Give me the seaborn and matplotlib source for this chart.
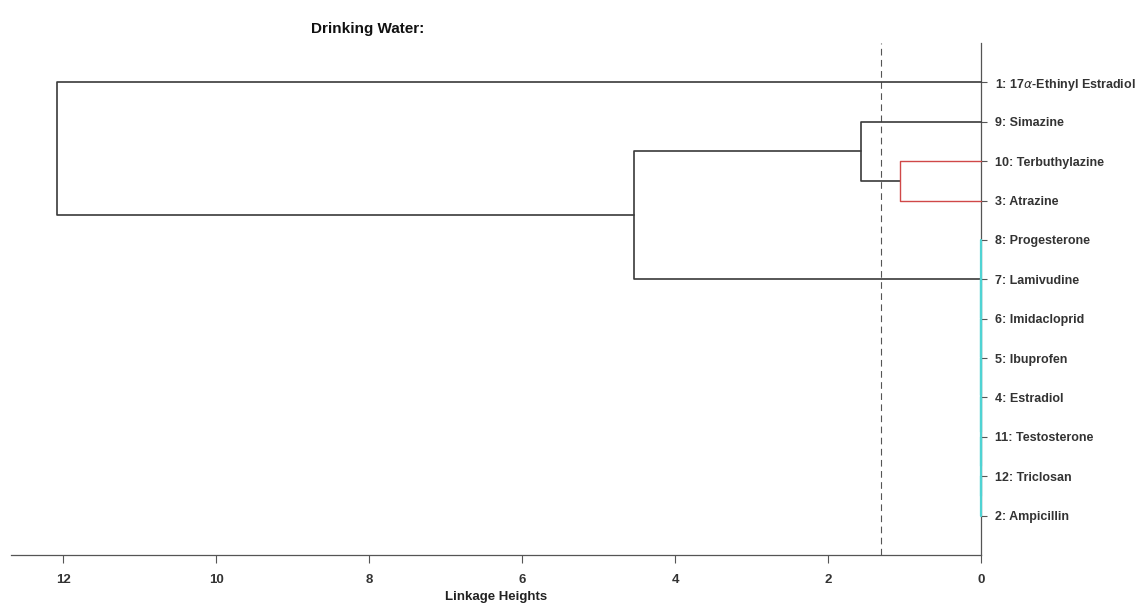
import matplotlib
matplotlib.use("Agg")
import matplotlib.pyplot as plt
import seaborn as sns
import pandas as pd

# ---------------- data ----------------
leaf_labels = [
    r"1: 17$\alpha$-Ethinyl Estradiol",
    "9: Simazine",
    "10: Terbuthylazine",
    "3: Atrazine",
    "8: Progesterone",
    "7: Lamivudine",
    "6: Imidacloprid",
    "5: Ibuprofen",
    "4: Estradiol",
    "11: Testosterone",
    "12: Triclosan",
    "2: Ampicillin",
]
# links: (name, child_a, child_b, height, colour group); children are leaf indices (int) or link names
link_names   = ["z1", "z2", "z3", "z4", "z5", "z6", "z7", "R", "B", "A", "root"]
link_child_a = [10, "z1", "z2", "z3", "z4", "z5", "z6", 2, 1, "B", 0]
link_child_b = [11, 9, 8, 7, 6, 5, 4, 3, "R", "z7", "A"]
link_heights = [0.0, 0.0, 0.0, 0.0, 0.0, 0.0, 0.0, 1.06, 1.57, 4.53, 12.08]
link_groups  = ["cyan", "cyan", "cyan", "cyan", "cyan", "cyan", "cyan", "red", "black", "black", "black"]
cutoff = 1.31
x_ticks = [0, 2, 4, 6, 8, 10, 12]

# ---------------- build segments ----------------
pos = {}
hgt = {}
rows = []
for name, a, b, h, g in zip(link_names, link_child_a, link_child_b, link_heights, link_groups):
    ya = pos[a] if isinstance(a, str) else float(a)
    yb = pos[b] if isinstance(b, str) else float(b)
    ha = hgt[a] if isinstance(a, str) else 0.0
    hb = hgt[b] if isinstance(b, str) else 0.0
    pos[name] = (ya + yb) / 2
    hgt[name] = h
    for k, (xx, yy) in enumerate([(ha, ya), (h, ya), (h, yb), (hb, yb)]):
        rows.append({"link": name, "order": k, "height": xx, "leaf": yy, "group": g})
df = pd.DataFrame(rows)

palette = {"black": "#3a3a3a", "red": "#d04848", "cyan": "#4fd3d3"}

sns.set_theme(style="white")
plt.rcParams["font.family"] = ["Liberation Sans", "DejaVu Sans"]
plt.rcParams["mathtext.fontset"] = "dejavusans"

fig = plt.figure(figsize=(11.45, 6.04), dpi=100)
ax = fig.add_axes([11 / 1145, 49 / 604, 970 / 1145, 512 / 604])

for grp, lw in [("cyan", 1.6), ("black", 1.2), ("red", 1.0)]:
    sub = df[df["group"] == grp]
    n_before = len(ax.lines)
    sns.lineplot(data=sub, x="height", y="leaf", units="link", estimator=None,
                 sort=False, color=palette[grp], linewidth=lw, ax=ax, legend=False)
    for ln in ax.lines[n_before:]:
        ln.set_clip_on(False)
        ln.set_zorder(3 if grp != "cyan" else 3.5)

ax.axvline(cutoff, color="#555555", linewidth=0.8, linestyle=(0, (6, 4)))

ax.set_xlim(12.68, 0)
ax.set_ylim(len(leaf_labels), -1)
ax.set_xticks(x_ticks)
ax.set_xticklabels([str(t) for t in x_ticks], fontsize=9.5, fontweight="bold", color="#333333")
ax.set_yticks(range(len(leaf_labels)))
ax.set_yticklabels(leaf_labels, fontsize=9, fontweight="bold", color="#333333")
ax.yaxis.tick_right()
ax.tick_params(axis="both", direction="out", width=0.8, color="#555555")
ax.tick_params(axis="y", pad=6, length=4, right=True, left=False)
ax.tick_params(axis="x", pad=8, length=6, bottom=True, top=False)
for s in ["top", "left"]:
    ax.spines[s].set_visible(False)
for s in ["right", "bottom"]:
    ax.spines[s].set_visible(True)
    ax.spines[s].set_color("#555555")
    ax.spines[s].set_linewidth(0.9)
    ax.spines[s].set_zorder(2.5)

ax.set_xlabel("Linkage Heights", fontsize=9.5, fontweight="bold", color="#222222", labelpad=3)
ax.set_ylabel("")
fig.text(368 / 1145, 1 - 29 / 604, "Drinking Water:", ha="center", va="center",
         fontsize=11, fontweight="bold", color="#111111")

fig.savefig("out.png", dpi=100)
